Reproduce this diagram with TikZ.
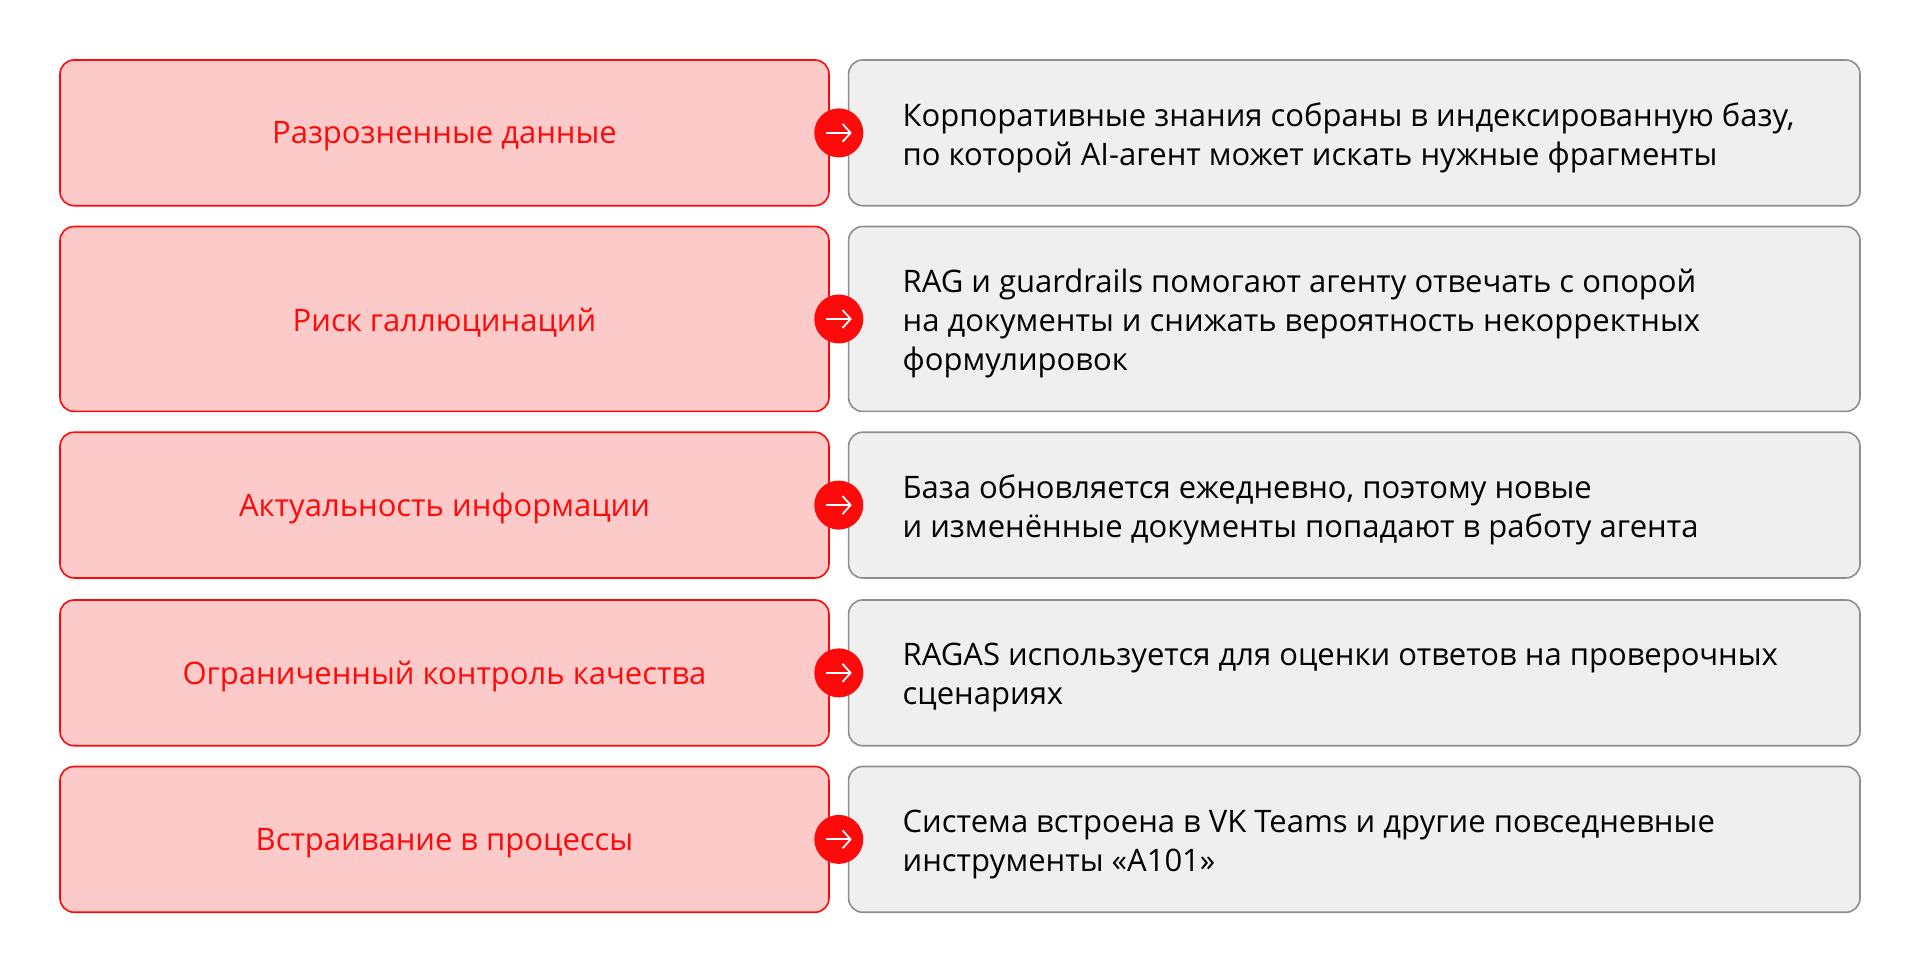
\documentclass[tikz,border=0pt]{standalone}
\usepackage{fontspec}
\setmainfont{Open Sans}
\usetikzlibrary{arrows.meta}
\definecolor{rd}{HTML}{FF0A0A}
\definecolor{rdfill}{HTML}{FDCACA}
\definecolor{gfill}{HTML}{EFEFEF}
\definecolor{gline}{HTML}{8E8E8E}
\begin{document}
\begin{tikzpicture}[x=1.2245pt,y=-1.2245pt,
  lbox/.style={draw=rd,fill=rdfill,line width=1.6pt,rounded corners=14pt},
  rbox/.style={draw=gline,fill=gfill,line width=1.6pt,rounded corners=14pt},
  ltxt/.style={text=rd,font=\fontsize{31}{36}\selectfont},
  rtxt/.style={anchor=west,align=left,text=black,inner sep=0pt,font=\fontsize{31}{39}\selectfont},
  circ/.style={circle,fill=rd,minimum size=49pt,inner sep=0pt}]
\useasboundingbox (0,0) rectangle (1568,795);
\foreach \i/\ya/\yb/\lt/\rt in {
 1/49/168/{Разрозненные данные}/{Корпоративные знания собраны в индексированную базу,\\по которой AI-агент может искать нужные фрагменты},
 2/185/336/{Риск галлюцинаций}/{RAG и guardrails помогают агенту отвечать с опорой\\на документы и снижать вероятность некорректных\\формулировок},
 3/353/472/{Актуальность информации}/{База обновляется ежедневно, поэтому новые\\и изменённые документы попадают в работу агента},
 4/490/609/{Ограниченный контроль качества}/{RAGAS используется для оценки ответов на проверочных\\сценариях},
 5/626/745/{Встраивание в процессы}/{Система встроена в VK Teams и другие повседневные\\инструменты «A101»}}{
  \draw[lbox] (49,\ya) rectangle (677,\yb);
  \draw[rbox] (693,\ya) rectangle (1519,\yb);
  \node[ltxt] (l\i) at (363,{(\ya+\yb)/2+3}) {\lt};
  \node[rtxt] (r\i) at (737,{(\ya+\yb)/2+4}) {\rt};
  \node[circ] (c\i) at (685,{(\ya+\yb)/2}) {};
  \draw[white,line width=1.8pt,-{Straight Barb[length=8pt,width=18pt]}] ([xshift=-13pt]c\i.center) -- ([xshift=13pt]c\i.center);
}
\end{tikzpicture}
\end{document}
